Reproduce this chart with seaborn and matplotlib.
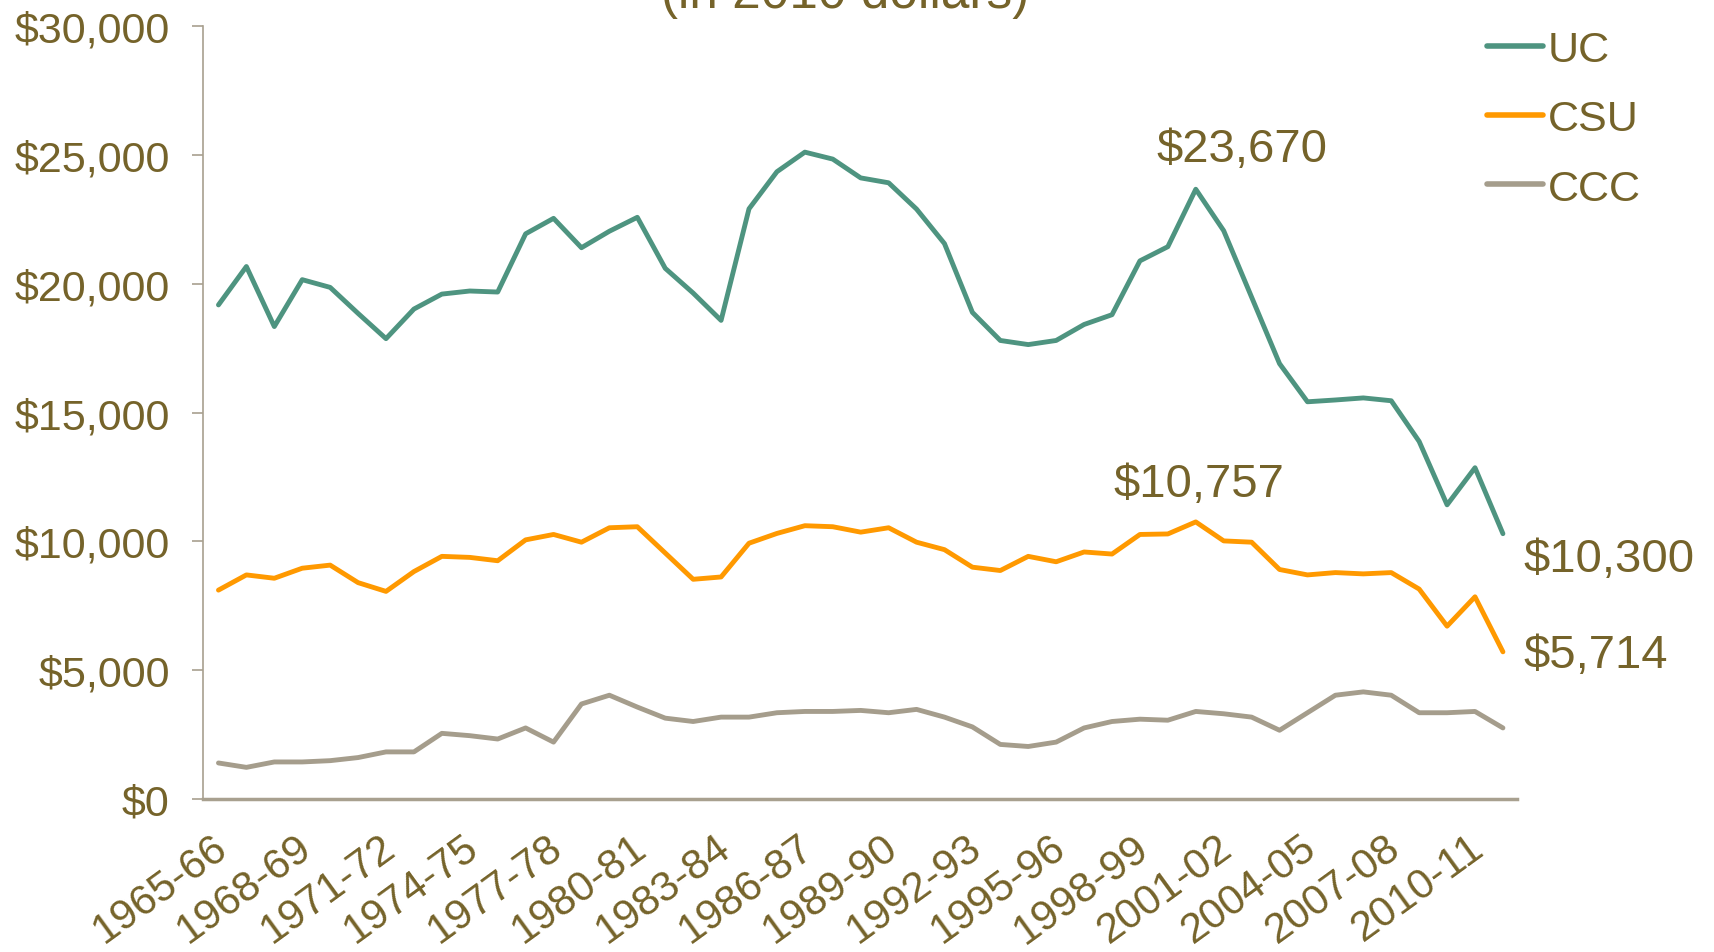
import pandas as pd
import numpy as np
import matplotlib.pyplot as plt
import matplotlib.transforms as mtransforms
import seaborn as sns

# Academic years 1965-66 .. 2011-12
years = [f"{y}-{str(y + 1)[-2:]}" for y in range(1965, 2012)]

# Cost per student (in 2010 dollars)
uc = [19180, 20670, 18340, 20160, 19860, 18850, 17870, 19020, 19600, 19720,
      19680, 21940, 22540, 21400, 22040, 22580, 20600, 19640, 18580, 22910,
      24350, 25110, 24840, 24110, 23920, 22900, 21560, 18890, 17800, 17640,
      17800, 18420, 18800, 20890, 21440, 23670, 22060, 19480, 16900, 15420,
      15490, 15570, 15460, 13880, 11420, 12860, 10300]
csu = [8110, 8700, 8570, 8960, 9080, 8400, 8060, 8830, 9420, 9380,
       9250, 10060, 10270, 9970, 10530, 10570, 9550, 8530, 8620, 9930,
       10310, 10610, 10570, 10360, 10530, 9970, 9680, 9000, 8870, 9420,
       9210, 9590, 9510, 10270, 10290, 10757, 10020, 9970, 8910, 8700,
       8790, 8740, 8790, 8150, 6710, 7850, 5714]
ccc = [1400, 1230, 1440, 1440, 1490, 1610, 1830, 1830, 2550, 2460,
       2330, 2760, 2210, 3690, 4030, 3570, 3140, 3010, 3180, 3180,
       3350, 3400, 3400, 3440, 3350, 3480, 3180, 2800, 2120, 2040,
       2210, 2760, 3010, 3100, 3060, 3400, 3310, 3180, 2670, 3350,
       4030, 4160, 4030, 3350, 3350, 3400, 2760]

segments = ["UC", "CSU", "CCC"]
y_ticks = [0, 5000, 10000, 15000, 20000, 25000, 30000]
y_tick_labels = ["$0", "$5,000", "$10,000", "$15,000", "$20,000", "$25,000", "$30,000"]
title = "(in 2010 dollars)"

# Callouts: (series, year, text)
callouts = [("UC", "2000-01", "$23,670"), ("CSU", "2000-01", "$10,757"),
            ("UC", "2011-12", "$10,300"), ("CSU", "2011-12", "$5,714")]

df = pd.DataFrame({
    "year": years * 3,
    "pos": list(range(len(years))) * 3,
    "cost": uc + csu + ccc,
    "segment": [s for s in segments for _ in years],
})

text_color = "#75632A"
axis_color = "#A8A08F"
palette = {"UC": "#4E9480", "CSU": "#FF9900", "CCC": "#A59D8C"}

sns.set_style("white")
plt.rcParams["font.family"] = ["Liberation Sans", "DejaVu Sans"]

fig = plt.figure(figsize=(17.14, 9.53), dpi=100)
ax = fig.add_axes([0.1185, 0.1605, 0.7665, 0.811])

sns.lineplot(data=df, x="pos", y="cost", hue="segment", palette=palette,
             hue_order=segments, linewidth=3.5, ax=ax)

ax.set_xlim(-0.55, len(years) - 0.5)
ax.set_ylim(0, 30000)
ax.set_yticks(y_ticks)
ax.set_yticklabels(y_tick_labels)
tick_pos = list(range(0, len(years), 3))
ax.set_xticks(tick_pos)
ax.set_xticklabels([years[i] for i in tick_pos], rotation=36, ha="right",
                   rotation_mode="anchor")
ax.set_xlabel("")
ax.set_ylabel("")

ax.tick_params(axis="y", colors=axis_color, labelcolor=text_color, labelsize=31,
               length=8, width=1.2, pad=16, left=True)
ax.tick_params(axis="x", labelcolor=text_color, labelsize=30.5, length=0, pad=20)
shift = mtransforms.ScaledTranslation(-5 / 72, 0, fig.dpi_scale_trans)
for lbl in ax.get_xticklabels():
    lbl.set_transform(lbl.get_transform() + shift)

for side in ["top", "right"]:
    ax.spines[side].set_visible(False)
ax.spines["left"].set_color(axis_color)
ax.spines["left"].set_linewidth(1.2)
ax.spines["bottom"].set_color(axis_color)
ax.spines["bottom"].set_linewidth(2.5)

# Value callouts
series = {"UC": uc, "CSU": csu, "CCC": ccc}
offsets = {"$23,670": (33, 20, "center", "baseline"),
           "$10,757": (2, 19, "center", "baseline"),
           "$10,300": (15, -18, "left", "center"),
           "$5,714": (15, -2, "left", "center")}
for seg, yr, txt in callouts:
    i = years.index(yr)
    dx, dy, ha, va = offsets[txt]
    ax.annotate(txt, xy=(i, series[seg][i]), xytext=(dx, dy),
                textcoords="offset points", ha=ha, va=va,
                fontsize=34, color=text_color, annotation_clip=False)

handles, labels = ax.get_legend_handles_labels()
leg = ax.legend(handles, labels, loc="upper left", bbox_to_anchor=(0.8675, 0.9675),
                bbox_transform=fig.transFigure, frameon=False, fontsize=31,
                handlelength=1.3, handletextpad=0.12, labelspacing=0.68,
                borderpad=0, borderaxespad=0)
for t in leg.get_texts():
    t.set_color(text_color)
for h in leg.get_lines():
    h.set_linewidth(4)
    h.set_solid_capstyle("round")

fig.text(0.493, 0.9916, title, ha="center", va="baseline", fontsize=37,
         color=text_color)

fig.savefig("out.png", dpi=100)
